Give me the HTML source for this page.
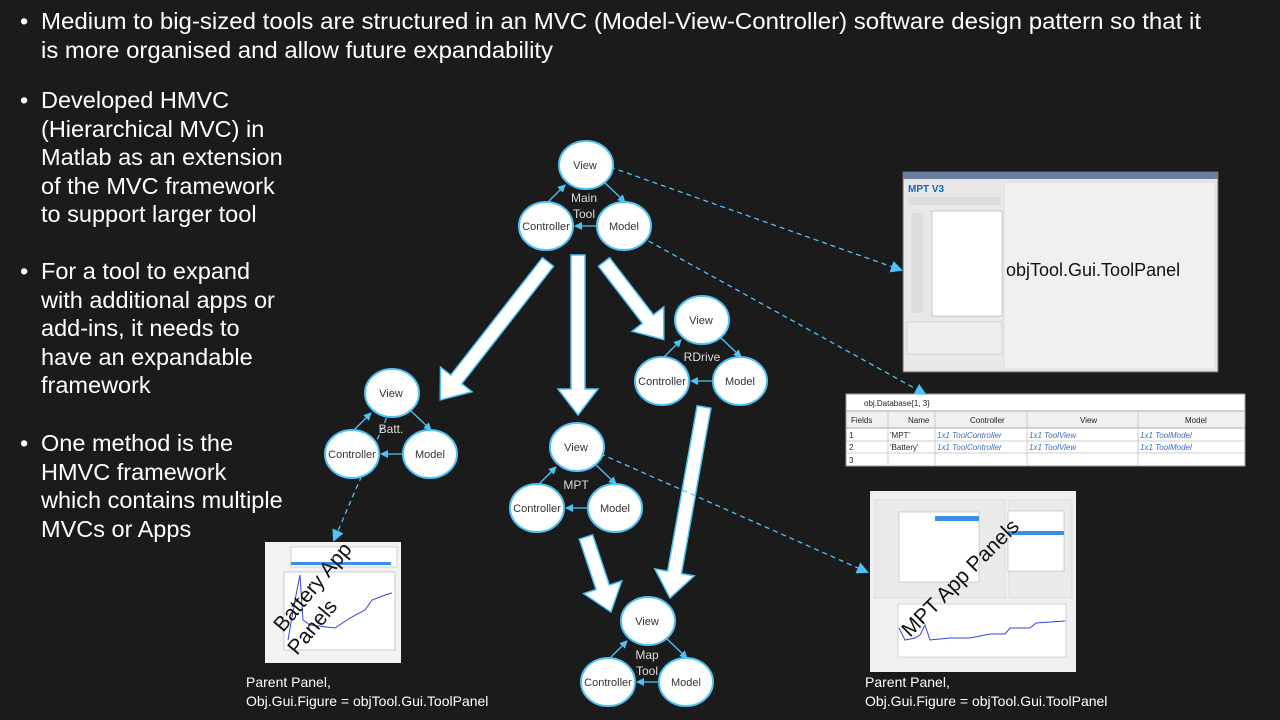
<!DOCTYPE html>
<html><head><meta charset="utf-8"><style>
html,body{margin:0;padding:0;background:#1b1b1b;}
svg{display:block;font-family:"Liberation Sans",sans-serif;}
.b{fill:#fff;font-size:23.5px;}
.n{font-size:11px;fill:#333;text-anchor:middle;}
.lb{font-size:12px;fill:#ddd;text-anchor:middle;}
.arr{fill:#fff;stroke:#4fc3f7;stroke-width:1.5;}
.d{stroke:#4fc3f7;stroke-width:1.3;stroke-dasharray:5,4;fill:none;}
.c{stroke:#4fc3f7;stroke-width:1.3;fill:none;marker-end:url(#ah);}
</style></head><body>
<svg width="1280" height="720" viewBox="0 0 1280 720" xmlns="http://www.w3.org/2000/svg">
<defs>
<marker id="ah" markerWidth="8" markerHeight="8" refX="7" refY="4" orient="auto" markerUnits="userSpaceOnUse"><path d="M0,0 L8,4 L0,8 z" fill="#4fc3f7"/></marker>
<marker id="ah2" markerWidth="12" markerHeight="12" refX="10" refY="6" orient="auto" markerUnits="userSpaceOnUse"><path d="M0,0 L12,6 L0,12 z" fill="#4fc3f7"/></marker>
<g id="mvc">
<ellipse cx="1" cy="-61" rx="27" ry="24" fill="#fff" stroke="#4fc3f7" stroke-width="2"/>
<ellipse cx="-39" cy="0" rx="27" ry="24" fill="#fff" stroke="#4fc3f7" stroke-width="2"/>
<ellipse cx="39" cy="0" rx="27" ry="24" fill="#fff" stroke="#4fc3f7" stroke-width="2"/>
<line class="c" x1="-37" y1="-24" x2="-20" y2="-41"/>
<line class="c" x1="20" y1="-43" x2="40" y2="-24"/>
<line class="c" x1="12" y1="0" x2="-10" y2="0"/>
<text class="n" x="0" y="-57">View</text>
<text class="n" x="-39" y="4">Controller</text>
<text class="n" x="39" y="4">Model</text>
</g>
</defs>

<!-- bullets -->
<text class="b" x="20" y="29">•</text>
<text class="b" x="41" y="29" textLength="1160" lengthAdjust="spacingAndGlyphs">Medium to big-sized tools are structured in an MVC (Model-View-Controller) software design pattern so that it</text>
<text class="b" x="41" y="58" textLength="512" lengthAdjust="spacingAndGlyphs">is more organised and allow future expandability</text>
<g class="b">
<text x="20" y="108">•</text>
<text x="20" y="279">•</text>
<text x="20" y="451">•</text>
<text x="41" y="108">Developed HMVC</text>
<text x="41" y="137">(Hierarchical MVC) in</text>
<text x="41" y="165">Matlab as an extension</text>
<text x="41" y="194">of the MVC framework</text>
<text x="41" y="222">to support larger tool</text>
<text x="41" y="279">For a tool to expand</text>
<text x="41" y="308">with additional apps or</text>
<text x="41" y="336">add-ins, it needs to</text>
<text x="41" y="365">have an expandable</text>
<text x="41" y="393">framework</text>
<text x="41" y="451">One method is the</text>
<text x="41" y="480">HMVC framework</text>
<text x="41" y="508">which contains multiple</text>
<text x="41" y="537">MVCs or Apps</text>
</g>

<!-- big arrows -->
<g transform="translate(548,262) rotate(38)"><polygon class="arr" points="-7,0 7,0 7,149 20,149 0,175 -20,149 -7,149"/></g>
<g transform="translate(578,255)"><polygon class="arr" points="-7,0 7,0 7,134 20,134 0,160 -20,134 -7,134"/></g>
<g transform="translate(604,262) rotate(-37.6)"><polygon class="arr" points="-7,0 7,0 7,72 20,72 0,98 -20,72 -7,72"/></g>
<g transform="translate(704,407) rotate(10.1)"><polygon class="arr" points="-7,0 7,0 7,168 20,168 0,194 -20,168 -7,168"/></g>
<g transform="translate(586,537) rotate(-18.4)"><polygon class="arr" points="-7,0 7,0 7,53 20,53 0,79 -20,53 -7,53"/></g>

<!-- screenshots -->
<g>
<rect x="903" y="172" width="315" height="200" fill="#e8e8e8" stroke="#666"/>
<rect x="903" y="172" width="315" height="7" fill="#6a7fa0"/>
<text x="908" y="192" font-size="10" font-weight="bold" fill="#1565c0">MPT V3</text>
<rect x="908" y="197" width="93" height="8" fill="#ddd"/>
<rect x="932" y="211" width="70" height="105" fill="#fff" stroke="#999" stroke-width=".5"/>
<rect x="911" y="213" width="12" height="100" fill="#ddd"/>
<rect x="907" y="322" width="95" height="32" fill="#eee" stroke="#bbb" stroke-width=".5"/>
<rect x="1004" y="182" width="211" height="187" fill="#f0f0f0" stroke="#ccc" stroke-width=".5"/>
<text x="1006" y="276" font-size="18" fill="#111">objTool.Gui.ToolPanel</text>
</g>
<g font-size="8">
<rect x="846" y="394" width="399" height="72" fill="#fff" stroke="#999"/>
<text x="864" y="406" fill="#222">obj.Database{1, 3}</text>
<rect x="847" y="411" width="397" height="17" fill="#f0f0f0"/>
<line x1="846" y1="411" x2="1245" y2="411" stroke="#aaa"/>
<line x1="846" y1="428" x2="1245" y2="428" stroke="#aaa"/>
<line x1="846" y1="441" x2="1245" y2="441" stroke="#ccc"/>
<line x1="846" y1="453" x2="1245" y2="453" stroke="#ccc"/>
<line x1="888" y1="411" x2="888" y2="466" stroke="#ccc"/>
<line x1="935" y1="411" x2="935" y2="466" stroke="#ccc"/>
<line x1="1027" y1="411" x2="1027" y2="466" stroke="#ccc"/>
<line x1="1138" y1="411" x2="1138" y2="466" stroke="#ccc"/>
<text x="851" y="423" fill="#222">Fields</text><text x="908" y="423" fill="#222">Name</text><text x="970" y="423" fill="#222">Controller</text><text x="1080" y="423" fill="#222">View</text><text x="1185" y="423" fill="#222">Model</text>
<text x="849" y="438" fill="#222">1</text><text x="890" y="438" fill="#222">'MPT'</text>
<text x="849" y="450" fill="#222">2</text><text x="890" y="450" fill="#222">'Battery'</text>
<text x="849" y="463" fill="#222">3</text>
<g fill="#3a6fc0" font-style="italic"><text x="937" y="438">1x1 ToolController</text><text x="1029" y="438">1x1 ToolView</text><text x="1140" y="438">1x1 ToolModel</text>
<text x="937" y="450">1x1 ToolController</text><text x="1029" y="450">1x1 ToolView</text><text x="1140" y="450">1x1 ToolModel</text></g>
</g>
<g>
<rect x="265" y="542" width="136" height="121" fill="#f2f2f2"/>
<rect x="291" y="547" width="106" height="20" fill="#fff" stroke="#aaa" stroke-width=".5"/>
<rect x="291" y="562" width="100" height="3" fill="#3a8ee6"/>
<rect x="284" y="572" width="111" height="78" fill="#fff" stroke="#999" stroke-width=".5"/>
<polyline points="288,640 295,600 300,575 303,620 310,625 335,628 350,618 365,610 372,600 385,595 392,593" fill="none" stroke="#3344dd" stroke-width="1"/>
<text x="0" y="0" font-size="21" fill="#111" transform="translate(283,633) rotate(-50)">Battery App</text>
<text x="0" y="0" font-size="21" fill="#111" transform="translate(297,656) rotate(-50)">Panels</text>
</g>
<g>
<rect x="870" y="491" width="206" height="181" fill="#f0f0f0"/>
<rect x="875" y="500" width="130" height="98" fill="#eaeaea" stroke="#ccc" stroke-width=".5"/>
<rect x="899" y="512" width="80" height="70" fill="#fff" stroke="#aaa" stroke-width=".5"/>
<rect x="935" y="516" width="44" height="5" fill="#3a8ee6"/>
<rect x="1009" y="500" width="63" height="98" fill="#eaeaea" stroke="#ccc" stroke-width=".5"/>
<rect x="1008" y="511" width="56" height="60" fill="#fff" stroke="#aaa" stroke-width=".5"/>
<rect x="1008" y="531" width="56" height="4" fill="#3a8ee6"/>
<rect x="898" y="604" width="168" height="53" fill="#fff" stroke="#aaa" stroke-width=".5"/>
<polyline points="899,628 905,640 915,638 920,635 925,625 930,640 950,638 970,638 990,634 1005,634 1010,628 1030,628 1036,623 1065,621" fill="none" stroke="#3344dd"/>
<text x="0" y="0" font-size="21" fill="#111" transform="translate(910,638) rotate(-45)">MPT App Panels</text>
</g>

<!-- dashed links -->
<line class="d" x1="610" y1="167" x2="901" y2="270" marker-end="url(#ah2)"/>
<line class="d" x1="625" y1="228" x2="925" y2="394" marker-end="url(#ah2)"/>
<line class="d" x1="390" y1="410" x2="334" y2="540" marker-end="url(#ah2)"/>
<line class="d" x1="592" y1="450" x2="867" y2="572" marker-end="url(#ah2)"/>

<!-- MVC groups -->
<use href="#mvc" x="585" y="226"/>
<text class="lb" x="584" y="202">Main</text><text class="lb" x="584" y="218">Tool</text>
<use href="#mvc" x="701" y="381"/>
<text class="lb" x="702" y="361">RDrive</text>
<use href="#mvc" x="391" y="454"/>
<text class="lb" x="391" y="433">Batt.</text>
<use href="#mvc" x="576" y="508"/>
<text class="lb" x="576" y="489">MPT</text>
<use href="#mvc" x="647" y="682"/>
<text class="lb" x="647" y="659">Map</text><text class="lb" x="647" y="675">Tool</text>

<g fill="#fff" font-size="14">
<text x="246" y="687">Parent Panel,</text>
<text x="246" y="706">Obj.Gui.Figure = objTool.Gui.ToolPanel</text>
<text x="865" y="687">Parent Panel,</text>
<text x="865" y="706">Obj.Gui.Figure = objTool.Gui.ToolPanel</text>
</g>
</svg>
</body></html>
